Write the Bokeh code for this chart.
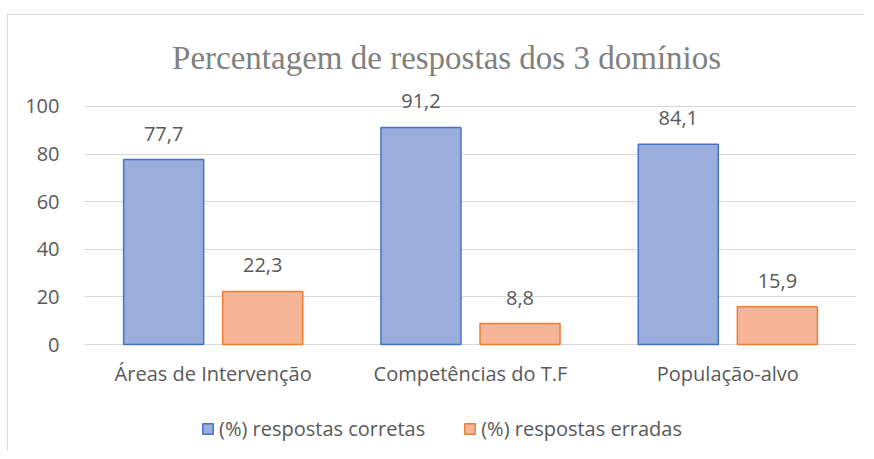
from bokeh.plotting import figure
from bokeh.models import (ColumnDataSource, FactorRange, Range1d, Label, Legend,
                          LegendItem, FixedTicker)
from bokeh.transform import dodge
from bokeh.core.properties import value
from bokeh.embed import file_html
from bokeh.resources import INLINE

# ---- data ----
categories = ["Áreas de Intervenção", "Competências do T.F", "População-alvo"]
corretas = [77.7, 91.2, 84.1]
erradas = [22.3, 8.8, 15.9]
series_names = ["(%) respostas corretas", "(%) respostas erradas"]
y_ticks = [0, 20, 40, 60, 80, 100]
title_text = "Percentagem de respostas dos 3 domínios"


def fmt(v):
    return f"{v:.1f}".replace(".", ",")


src = ColumnDataSource(dict(
    cat=categories,
    c=corretas,
    e=erradas,
    c_lbl=[fmt(v) for v in corretas],
    e_lbl=[fmt(v) for v in erradas],
))

FONT = "Open Sans"
TXT = "#595959"
BLUE_FILL, BLUE_LINE = "#9BADDC", "#4472C4"
ORANGE_FILL, ORANGE_LINE = "#F6B596", "#ED7D31"
GRID = "#D9D9D9"
OFF = 0.1925
BW = 0.311

# room above 100 for the title, and below 0 for category labels and legend
p = figure(x_range=FactorRange(*categories, range_padding=0),
           y_range=Range1d(-42.0, 129.8),
           width=857, height=436,
           output_backend="svg", toolbar_location=None,
           min_border_left=76, min_border_right=9,
           min_border_top=20, min_border_bottom=7)
p.styles = {"transform": "translate(7px, 14px)",
            "border-left": f"1px solid {GRID}",
            "border-top": f"1px solid {GRID}"}
p.outline_line_color = None
p.background_fill_color = "white"
p.border_fill_color = "white"

r1 = p.vbar(x=dodge("cat", -OFF, range=p.x_range), top="c", width=BW, source=src,
            fill_color=BLUE_FILL, line_color=BLUE_LINE, line_width=1.5)
r2 = p.vbar(x=dodge("cat", OFF, range=p.x_range), top="e", width=BW, source=src,
            fill_color=ORANGE_FILL, line_color=ORANGE_LINE, line_width=1.5)

for col, off in (("c", -OFF), ("e", OFF)):
    p.text(x=dodge("cat", off, range=p.x_range), y=col, text=col + "_lbl",
           source=src, text_align="center", text_baseline="middle",
           y_offset=-26, text_font=value(FONT), text_font_size="20px",
           text_color=TXT)

# axes / grid
p.yaxis.ticker = FixedTicker(ticks=y_ticks)
p.ygrid.ticker = FixedTicker(ticks=y_ticks)
p.ygrid.grid_line_color = GRID
p.ygrid.grid_line_width = 1
p.xgrid.grid_line_color = None
p.xaxis.fixed_location = y_ticks[0]
for ax in (p.xaxis, p.yaxis):
    ax.axis_line_color = None
    ax.major_tick_line_color = None
    ax.minor_tick_line_color = None
    ax.major_tick_out = 0
    ax.major_tick_in = 0
    ax.major_label_text_font = FONT
    ax.major_label_text_font_size = "20px"
    ax.major_label_text_color = TXT
p.yaxis.major_label_standoff = 25
p.xaxis.major_label_standoff = 15

# title
p.add_layout(Label(x=1.407, y=120.2, x_units="data", y_units="data",
                   text=title_text, text_font="Liberation Serif",
                   text_font_size="33px", text_color="#808080",
                   text_align="center", text_baseline="alphabetic"))

legend = Legend(items=[LegendItem(label=series_names[0], renderers=[r1]),
                       LegendItem(label=series_names[1], renderers=[r2])],
                orientation="horizontal", location=(117, 2),
                glyph_width=13, glyph_height=13, label_standoff=5, spacing=38,
                padding=0, margin=0, border_line_color=None,
                background_fill_alpha=0,
                label_text_font=FONT, label_text_font_size="20px",
                label_text_color=TXT)
p.add_layout(legend, "center")

open("out.html", "w").write(file_html(p, INLINE))
